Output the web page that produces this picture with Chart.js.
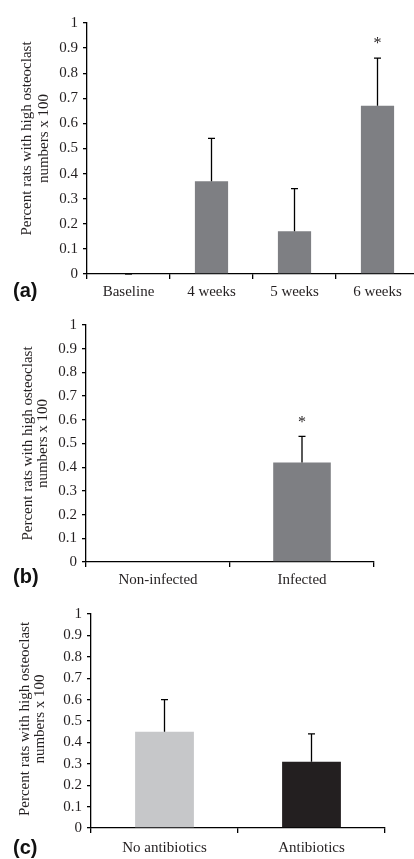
<!DOCTYPE html>
<html>
<head>
<meta charset="utf-8">
<script src="https://cdn.jsdelivr.net/npm/chart.js@4/dist/chart.umd.min.js"></script>
<style>
  html, body { margin:0; padding:0; background:#fff; width:414px; height:859px; overflow:hidden; }
  .panel { position:absolute; left:0; }
  .tag { position:absolute; left:13px; font:bold 20px 'Liberation Sans', Arial, sans-serif; color:#111; }
</style>
</head>
<body>
<div class="panel" id="pa" style="top:0;width:420px;height:300px"><canvas id="chart-a"></canvas></div>
<div class="panel" id="pb" style="top:300px;width:414px;height:290px"><canvas id="chart-b"></canvas></div>
<div class="panel" id="pc" style="top:590px;width:414px;height:269px"><canvas id="chart-c"></canvas></div>
<div class="tag" style="top:279px">(a)</div>
<div class="tag" style="top:565px">(b)</div>
<div class="tag" style="top:836px">(c)</div>
<script>
// ── data ────────────────────────────────────────────────
const yTicks = ['0','0.1','0.2','0.3','0.4','0.5','0.6','0.7','0.8','0.9','1'];
const yTitle = ['Percent rats with high osteoclast', 'numbers x 100'];

const catsA = ['Baseline', '4 weeks', '5 weeks', '6 weeks'];
const valsA = [0, 0.37, 0.17, 0.67];
const errA  = [0, 0.17, 0.17, 0.19];
const sigA  = ['', '', '', '*'];

const catsB = ['Non-infected', 'Infected'];
const valsB = [0, 0.42];
const errB  = [null, 0.11];
const sigB  = ['', '*'];

const catsC = ['No antibiotics', 'Antibiotics'];
const valsC = [0.45, 0.31];
const errC  = [0.15, 0.13];
const sigC  = ['', ''];

const SERIF = "'Liberation Serif', 'Times New Roman', serif";
const INK = '#231f20';

// error bars (upper only), asterisks and the rotated axis title
const extras = {
  id: 'extras',
  afterDatasetsDraw(chart, args, o) {
    const { ctx, chartArea } = chart;
    const y = chart.scales.y;
    const meta = chart.getDatasetMeta(0);
    ctx.save();
    ctx.strokeStyle = '#000';
    ctx.lineWidth = 1.3;
    ctx.fillStyle = INK;
    meta.data.forEach((bar, i) => {
      const e = o.err[i];
      if (e == null) return;
      const top = y.getPixelForValue(o.vals[i] + e);
      ctx.beginPath();
      ctx.moveTo(bar.x, bar.y); ctx.lineTo(bar.x, top);
      ctx.moveTo(bar.x - 3.5, top); ctx.lineTo(bar.x + 3.5, top);
      ctx.stroke();
      if (o.sig[i]) {
        ctx.font = '16px ' + SERIF;
        ctx.textAlign = 'center';
        ctx.textBaseline = 'middle';
        ctx.fillText(o.sig[i], bar.x, top - 14);
      }
    });
    // axis title
    const cy = (chartArea.top + chartArea.bottom) / 2 + (o.shift || 0);
    ctx.font = '15px ' + SERIF;
    ctx.textAlign = 'center';
    ctx.textBaseline = 'middle';
    yTitle.forEach((t, k) => {
      ctx.save();
      ctx.translate(o.tx[k], cy);
      ctx.rotate(-Math.PI / 2);
      ctx.fillText(t, 0, 0);
      ctx.restore();
    });
    ctx.restore();
  }
};

function makeChart(id, cats, vals, colors, o) {
  return new Chart(document.getElementById(id), {
    type: 'bar',
    data: { labels: cats, datasets: [{ data: vals, backgroundColor: colors,
      barPercentage: 0.4, categoryPercentage: 1, borderWidth: 0 }] },
    options: {
      responsive: true, maintainAspectRatio: false, animation: false,
      layout: { padding: { top: o.top, right: o.right, left: 0, bottom: 0 } },
      plugins: { legend: { display: false }, tooltip: { enabled: false }, extras: o },
      scales: {
        y: {
          min: 0, max: 1,
          afterFit: s => { s.width = o.yw; },
          border: { display: true, color: '#000', width: 1.3 },
          grid: { drawOnChartArea: false, drawTicks: true, tickLength: 4, color: '#000', lineWidth: 1.3 },
          ticks: { stepSize: 0.1, padding: 5, color: INK, font: { family: SERIF, size: 15 },
            callback: (v, i) => yTicks[i] }
        },
        x: {
          afterFit: s => { s.height = o.xh; },
          border: { display: true, color: '#000', width: 1.3 },
          grid: { offset: true, drawOnChartArea: false, drawTicks: true, tickLength: 5, color: '#000', lineWidth: 1.3 },
          ticks: { padding: o.tp, color: INK, font: { family: SERIF, size: 15 }, maxRotation: 0 }
        }
      }
    },
    plugins: [extras]
  });
}

const GREY = '#7e7f83';
makeChart('chart-a', catsA, valsA, GREY,
  { vals: valsA, err: errA, sig: sigA, top: 23, right: 1, yw: 87, xh: 26, tp: 4, tx: [27, 44], shift: -10 });
makeChart('chart-b', catsB, valsB, GREY,
  { vals: valsB, err: errB, sig: sigB, top: 25, right: 40, yw: 86, xh: 28, tp: 4, tx: [28, 43], shift: 0 });
makeChart('chart-c', catsC, valsC, ['#c6c7c9', INK],
  { vals: valsC, err: errC, sig: sigC, top: 24, right: 29, yw: 91, xh: 31, tp: 6, tx: [25, 40], shift: -2 });
</script>
</body>
</html>
